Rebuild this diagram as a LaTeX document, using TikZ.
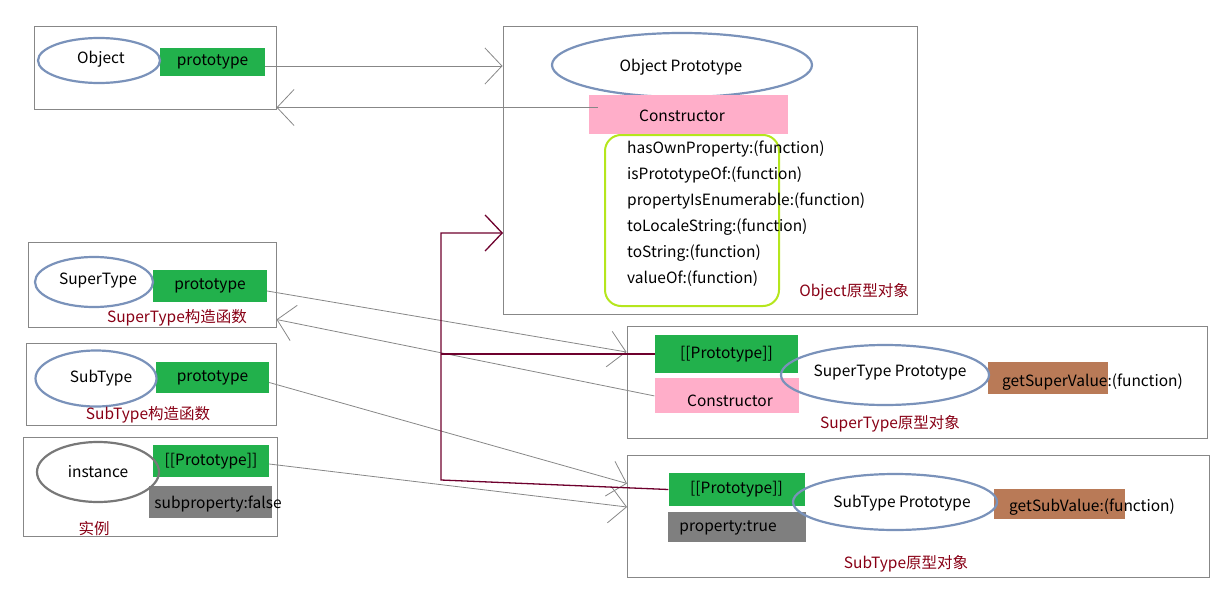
\documentclass[tikz,border=0pt]{standalone}
\usepackage{fontspec}
\setmainfont{Noto Sans CJK SC}
\usetikzlibrary{shapes.geometric,arrows.meta,positioning}

\definecolor{framegray}{RGB}{135,135,135}
\definecolor{ovalblue}{RGB}{122,146,186}
\definecolor{ovalgray}{RGB}{120,120,120}
\definecolor{slotgreen}{RGB}{34,177,76}
\definecolor{ctorpink}{RGB}{255,174,201}
\definecolor{fnbrown}{RGB}{185,122,87}
\definecolor{propgray}{RGB}{127,127,127}
\definecolor{fnlime}{RGB}{181,230,29}
\definecolor{tagred}{RGB}{136,0,21}
\definecolor{chainred}{RGB}{110,0,45}

\begin{document}
\begin{tikzpicture}[x=1pt, y=-1pt,
font=\fontsize{15.5}{18}\selectfont,
frame/.style={draw=framegray, line width=1pt, inner sep=0pt},
oval/.style={ellipse, draw=ovalblue, line width=2.2pt, inner sep=0pt},
slot/.style={fill=slotgreen, inner sep=0pt},
ctor/.style={fill=ctorpink, inner sep=0pt},
prop/.style={fill=propgray, inner sep=0pt},
fn/.style={fill=fnbrown, inner sep=0pt},
tag/.style={text=tagred, inner sep=0pt},
barb/.style={-{Straight Barb[length=17pt, width=36pt]}},
link/.style={draw=framegray, line width=0.8pt, barb},
chain/.style={draw=chainred, line width=1.3pt},
]
\useasboundingbox (0,0) rectangle (1225,610);

% Object constructor
\node[frame, minimum width=242pt, minimum height=82pt] (objfrm) at (155,68) {};
\node[slot, minimum width=105pt, minimum height=28pt] (objslot) at (212.5,62) {prototype};
\node[oval, minimum width=122pt, minimum height=45pt] (objoval) at (99,60.5) {};
\node (objname) at (101,59) {Object};

% Object prototype
\node[frame, minimum width=414pt, minimum height=287pt] (opfrm) at (710,170.5) {};
\node[oval, minimum width=260pt, minimum height=64pt] (opoval) at (682,65) {};
\node (opname) at (681,67) {Object Prototype};
\node[ctor, minimum width=199pt, minimum height=39pt] (opctor) at (688.5,114.5) {};
\node (opctorname) at (682,116) {Constructor};
\node[draw=fnlime, line width=2pt, rounded corners=16pt, minimum width=174pt, minimum height=171pt] (fnbox) at (692,220.5) {};
\foreach \fname [count=\i] in {hasOwnProperty,isPrototypeOf,propertyIsEnumerable,toLocaleString,toString,valueOf}
  \node[anchor=west, inner sep=0pt] (fn\i) at (627,123+26*\i) {\fname:(function)};
\node[tag] (optag) at (854,292) {Object原型对象};

% SuperType constructor
\node[frame, minimum width=248pt, minimum height=85pt] (supfrm) at (152,284.5) {};
\node[slot, minimum width=114pt, minimum height=32pt] (supslot) at (210,286) {prototype};
\node[oval, minimum width=118pt, minimum height=50pt] (supoval) at (94,282) {};
\node (supname) at (98,281) {SuperType};
\node[tag] (suptag) at (177,318) {SuperType构造函数};

% SubType constructor
\node[frame, minimum width=250pt, minimum height=82pt] (subfrm) at (151,384) {};
\node[slot, minimum width=113pt, minimum height=31pt] (subslot) at (212.5,377.5) {prototype};
\node[oval, minimum width=121pt, minimum height=56pt] (suboval) at (96,378.5) {};
\node (subname) at (101,378) {SubType};
\node[tag] (subtag) at (148,415) {SubType构造函数};

% instance
\node[frame, minimum width=254pt, minimum height=99pt] (instfrm) at (150,486.5) {};
\node[slot, minimum width=116pt, minimum height=32pt] (instslot) at (211,461) {[[Prototype]]};
\node[prop, minimum width=123pt, minimum height=32pt] (instprop) at (210.5,502) {};
\node (instpropname) at (218,504) {subproperty:false};
\node[oval, draw=ovalgray, minimum width=122pt, minimum height=60pt] (instoval) at (98,472) {};
\node (instname) at (98,472) {instance};
\node[tag] (insttag) at (94,529) {实例};

% SuperType prototype
\node[frame, minimum width=580pt, minimum height=112pt] (supPfrm) at (917,382) {};
\node[slot, minimum width=143pt, minimum height=38pt] (supPslot) at (726.5,354) {[[Prototype]]};
\node[ctor, below=5pt of supPslot, minimum width=144pt, minimum height=35pt] (supPctor) {};
\node (supPctorname) at (730,401) {Constructor};
\node[fn, minimum width=120pt, minimum height=32pt] (supPfn) at (1048,378) {};
\node[anchor=west, inner sep=0pt] (supPfnname) at (1002,382) {getSuperValue:(function)};
\node[oval, minimum width=208pt, minimum height=60pt] (supPoval) at (885,375) {};
\node (supPname) at (890,373) {SuperType Prototype};
\node[tag] (supPtag) at (890,424) {SuperType原型对象};

% SubType prototype
\node[frame, minimum width=582pt, minimum height=122pt] (subPfrm) at (918.5,516.5) {};
\node[slot, minimum width=136pt, minimum height=33pt] (subPslot) at (736.5,489.5) {[[Prototype]]};
\node[prop, below=6pt of subPslot, minimum width=138pt, minimum height=30pt] (subPprop) {};
\node (subPpropname) at (728,528) {property:true};
\node[fn, minimum width=131pt, minimum height=30pt] (subPfn) at (1059.5,504) {};
\node[anchor=west, inner sep=0pt] (subPfnname) at (1009,507) {getSubValue:(function)};
\node[oval, minimum width=204pt, minimum height=56pt] (subPoval) at (895,502) {};
\node (subPname) at (902,503) {SubType Prototype};
\node[tag] (subPtag) at (906,564) {SubType原型对象};

% links
\draw[link] ([yshift=-4pt]objslot.east) -- ([yshift=-4pt]objslot.east -| opfrm.west);
\draw[link] ([xshift=9pt,yshift=7pt]opctor.west) -- ([yshift=7pt]opctor.west -| objfrm.east);
\draw[link] ([yshift=-5pt]supslot.east) -- ([yshift=2pt]supPslot.west -| supPfrm.west);
\draw[link] (supPctor.west) -- ([yshift=8pt]supfrm.south east);
\draw[link] ([yshift=-5pt]subslot.east) -- ([yshift=6pt]subPslot.west -| subPfrm.west);
\draw[link] ([yshift=-3pt]instslot.east) -- ([yshift=-5pt]subPoval.center -| subPfrm.west);

% prototype chain
\coordinate (bend) at (441,480);
\coordinate (opin) at (503,233);
\draw[chain, barb] (subPslot.west) -- (bend) |- (opin);
\draw[chain] (supPslot.west) -- (supPslot.west -| bend);

\end{tikzpicture}
\end{document}
